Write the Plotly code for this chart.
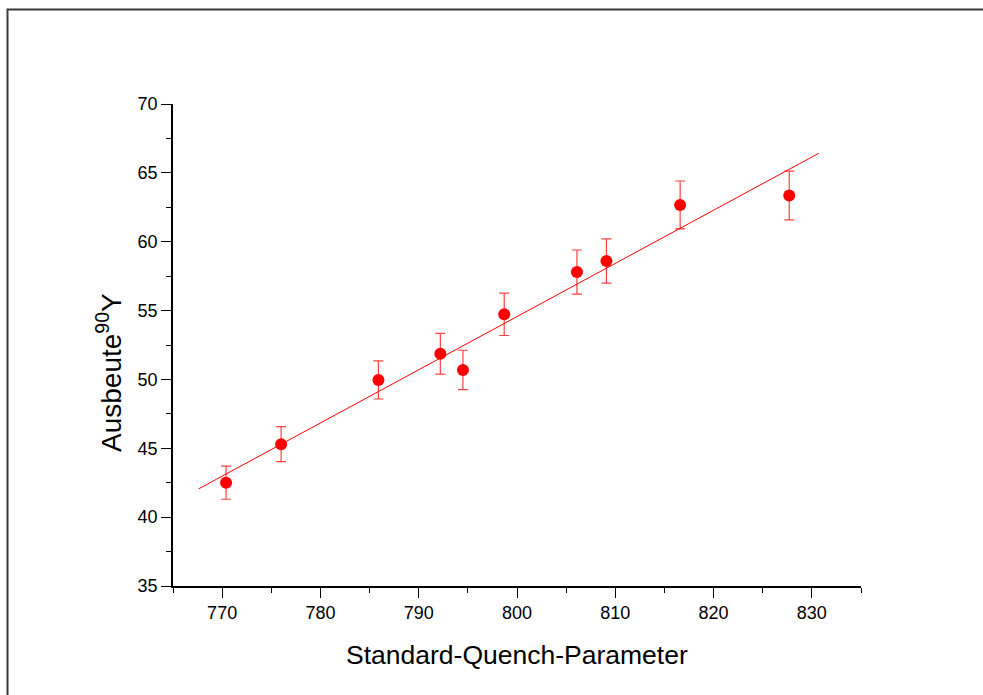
import plotly.graph_objects as go

# Data
quench = [770.4, 776.0, 785.9, 792.2, 794.5, 798.7, 806.1, 809.1, 816.6, 827.7]
yield_y = [42.5, 45.3, 49.96, 51.87, 50.69, 54.73, 57.8, 58.6, 62.67, 63.35]
yield_err = [1.2, 1.27, 1.38, 1.48, 1.43, 1.54, 1.6, 1.6, 1.74, 1.77]

fit_x = [767.6, 830.7]
fit_y = [42.05, 66.42]

x_ticks = [770, 780, 790, 800, 810, 820, 830]
y_ticks = [35, 40, 45, 50, 55, 60, 65, 70]

RED = "#ff0000"
W, H = 983, 695
ML, MR, MT, MB = 173, 122, 104, 109
PW = W - ML - MR
PH = H - MT - MB

fig = go.Figure()
fig.add_trace(go.Scatter(
    x=fit_x, y=fit_y, mode="lines",
    line=dict(color=RED, width=1), showlegend=False, hoverinfo="skip"))
fig.add_trace(go.Scatter(
    x=quench, y=yield_y, mode="markers",
    marker=dict(color=RED, size=12, line=dict(width=0)),
    error_y=dict(type="data", array=yield_err, visible=True,
                 color="rgba(255,0,0,0.75)", thickness=1.2, width=5),
    showlegend=False))

axis_common = dict(
    showgrid=False, zeroline=False, showline=True, linecolor="black",
    linewidth=1.5, ticks="outside", ticklen=10, tickwidth=1.2,
    tickcolor="black",
    tickfont=dict(family="Liberation Sans, Arial, sans-serif", size=18,
                  color="black"),
)

fig.update_xaxes(
    range=[765, 835], tickvals=x_ticks, ticktext=[str(v) for v in x_ticks],
    minor=dict(ticks="outside", ticklen=5, tickwidth=1.2, dtick=5,
               tick0=765, tickcolor="black"),
    **axis_common)
fig.update_yaxes(
    range=[35, 70], tickvals=y_ticks, ticktext=[str(v) for v in y_ticks],
    minor=dict(ticks="outside", ticklen=5, tickwidth=1.2, dtick=2.5,
               tick0=35, tickcolor="black"),
    **axis_common)

font_x_title = dict(family="Liberation Sans, Arial, sans-serif", size=26.5,
                    color="black")
font_y_title = dict(family="Liberation Sans, Arial, sans-serif", size=28,
                    color="black")
annotations = [
    dict(text="Standard-Quench-Parameter", xref="paper", yref="paper",
         x=0.5, y=0, xanchor="center", yanchor="middle",
         yshift=-(655 - (H - MB)), showarrow=False, font=font_x_title),
    dict(text="Ausbeute<sup>90</sup>Y", xref="paper", yref="paper",
         x=0, y=0.5, xanchor="center", yanchor="middle", textangle=-90,
         xshift=(109 - ML), yshift=(MT + PH / 2) - 373, showarrow=False,
         font=font_y_title),
]

# outer frame (extends past right/bottom edges as in the reference)
fx0 = (7.5 - ML) / PW
fx1 = (W + 20 - ML) / PW
fy1 = ((H - MB) - 9.5) / PH
fy0 = ((H - MB) - (H + 20)) / PH
shapes = [dict(type="rect", xref="paper", yref="paper",
               x0=fx0, x1=fx1, y0=fy0, y1=fy1,
               line=dict(color="#3a3a3a", width=2), layer="below")]

fig.update_layout(
    width=W, height=H,
    margin=dict(l=ML, r=MR, t=MT, b=MB, pad=0),
    paper_bgcolor="white", plot_bgcolor="white",
    annotations=annotations, shapes=shapes,
    showlegend=False,
)

fig.write_html(
    "out.html",
    config={"displayModeBar": False},
    post_script="document.body.style.margin='0';"
                "document.body.style.overflow='hidden';",
)
